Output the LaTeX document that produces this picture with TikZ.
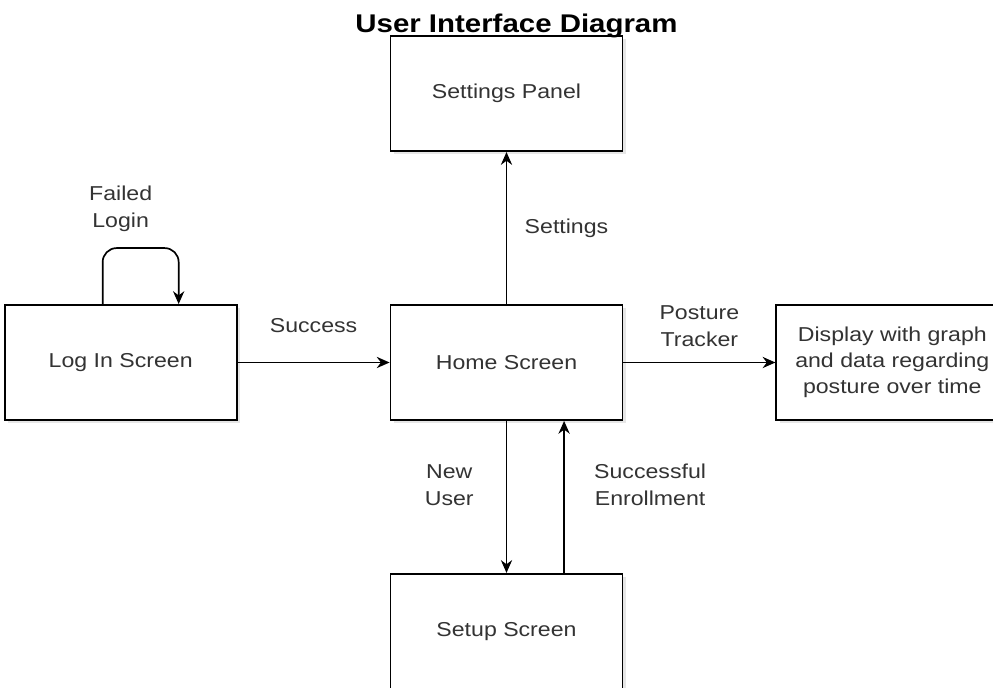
\documentclass[tikz,border=0pt]{standalone}
\usepackage{fontspec}
\setmainfont{Liberation Sans}[FakeStretch=1.15]
\usetikzlibrary{arrows.meta,positioning,shadows}

\begin{document}
\begin{tikzpicture}[
  screen/.style={rectangle, draw, line width=1.3pt, minimum width=5.8cm, minimum height=2.875cm, align=center, fill=white, text=black!80, font=\fontsize{14.3}{18.5}\selectfont, drop shadow={opacity=0.2, shadow xshift=0.08cm, shadow yshift=-0.08cm}},
  lbl/.style={align=center, text=black!80, font=\fontsize{14.3}{19}\selectfont},
  arrow/.style={-{Stealth[length=3.2mm, width=2.8mm]}, line width=1.2pt},
  node distance=3.8cm
]
\useasboundingbox (-12.6625,-8.125) rectangle (12.1625,9.0625);

\node[screen] (home) {Home Screen};
\node[screen, left=of home] (login) {Log In Screen};
\node[screen, right=of home] (display) {Display with graph\\and data regarding\\posture over time};
\node[screen, above=of home] (settings) {Settings Panel};
\node[screen, below=of home] (setup) {Setup Screen};

\node[anchor=base, font=\bfseries\fontsize{18.2}{22}\selectfont] (title) at ([xshift=0.25cm, yshift=0.08cm]settings.north) {User Interface Diagram};

\draw[arrow] (login) -- node[lbl, yshift=0.93cm] (success) {Success} (home);
\draw[arrow] (home) -- node[lbl, yshift=0.9cm] (tracker) {Posture\\Tracker} (display);
\draw[arrow] (home) -- node[lbl, xshift=1.5cm] (toset) {Settings} (settings);
\draw[arrow] (home) -- node[lbl, xshift=-1.43cm, yshift=0.3cm] (newuser) {New\\User} (setup);
\draw[arrow] ([xshift=1.44cm]setup.north) -- node[lbl, xshift=2.15cm, yshift=0.3cm] (enrolled) {Successful\\Enrollment} ([xshift=1.44cm]home.south);

% failed login loop
\draw[arrow, rounded corners=0.35cm] ([xshift=-0.45cm]login.north) -- ++(0,1.4) -| ([xshift=1.45cm]login.north);
\node[lbl] (failed) at ([yshift=2.375cm]login.north) {Failed\\Login};

\end{tikzpicture}
\end{document}
